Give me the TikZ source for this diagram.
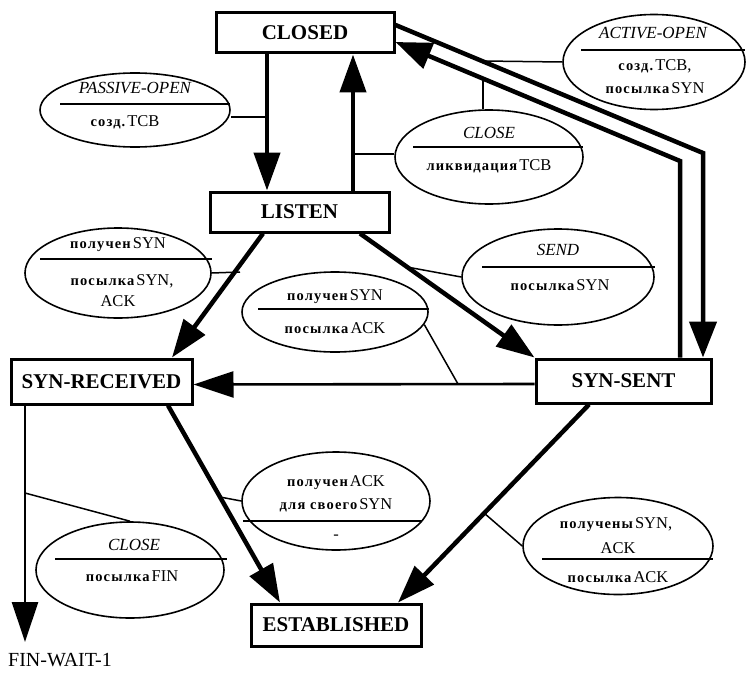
\documentclass[tikz,border=0pt]{standalone}
\usepackage{fontspec}
\setmainfont{Liberation Serif}
\newfontfamily\rufont[LetterSpace=8]{Liberation Serif}
\usetikzlibrary{shapes.geometric,arrows.meta}
\newcommand\cy[1]{{\rufont\bfseries\fontsize{14.5}{16}\selectfont #1}\hspace{2pt}}
\newcommand\lt[1]{{\fontsize{16.5}{18}\selectfont #1}}
\newcommand\tl[1]{{\itshape\fontsize{17}{19}\selectfont #1}}
\begin{document}
\begin{tikzpicture}[x=1pt,y=-1pt,
  state/.style={draw, line width=3pt, inner sep=0pt, font=\bfseries\fontsize{21}{24}\selectfont},
  oval/.style={draw, ellipse, line width=1.6pt, inner sep=0pt},
  txt/.style={inner sep=0pt},
  trans/.style={line width=4.5pt, -{Triangle[length=38pt,width=26pt]}},
  thintrans/.style={line width=2.6pt, -{Triangle[length=40pt,width=26pt]}},
  dbl/.style={line width=4.5pt, line join=miter, -{Triangle[length=36pt,width=27pt]}},
  conn/.style={line width=1.5pt},
  divider/.style={line width=2pt}
]
\useasboundingbox (0,0) rectangle (749,674);

% states
\node[state, minimum width=178pt, minimum height=40pt] (closed) at (305,33) {CLOSED};
\node[state, minimum width=179pt, minimum height=40pt] (listen) at (299.5,212) {LISTEN};
\node[state, minimum width=181pt, minimum height=45pt] (synrec) at (101.5,381.5) {SYN-RECEIVED};
\node[state, minimum width=175pt, minimum height=44pt] (synsent) at (623.5,381) {SYN-SENT};
\node[state, minimum width=170pt, minimum height=42pt] (estab) at (336,625) {ESTABLISHED};
\node[txt, anchor=west, font=\fontsize{20}{22}\selectfont] (finwait) at (8,660) {FIN-WAIT-1};

% main transitions
\draw[trans] ([xshift=-38pt]closed.south) -- ([xshift=-32.5pt]listen.north);
\draw[trans] ([xshift=53.5pt]listen.north) -- ([xshift=48pt]closed.south);
\draw[trans] ([xshift=-36.5pt]listen.south) -- ([xshift=70.5pt]synrec.north);
\draw[trans] ([xshift=60.5pt]listen.south) -- (synsent.north west);
\draw[thintrans] ([yshift=-3pt]synsent.west) -- ([yshift=-3pt]synrec.east);
\draw[trans] ([xshift=66.5pt]synrec.south) -- ([xshift=-56pt]estab.north);
\draw[trans] ([xshift=-34.5pt]synsent.south) -- ([xshift=62pt]estab.north);
\coordinate (fintip) at (25,642);
\draw[thintrans] ([xshift=-76.5pt]synrec.south) -- (fintip);

% double transitions CLOSED <-> SYN-SENT
\coordinate (b1) at (703,153);
\coordinate (b2) at (680,161);
\draw[dbl] ([yshift=8pt]closed.east) -- (b1) -- ([xshift=79.5pt]synsent.north);
\draw[dbl] ([xshift=56.5pt]synsent.north) -- (b2) -- ([yshift=-9pt]closed.east);

% junctions on transitions
\coordinate (j1) at (267,117);
\coordinate (j2) at (353,154);
\coordinate (j3) at (483,61);
\coordinate (j4) at (483,80);
\coordinate (j5) at (240,272);
\coordinate (j6) at (407,267);
\coordinate (j7) at (458,384);
\coordinate (j8) at (220,497);
\coordinate (j9) at (484,513);
\coordinate (j10) at (25,493);

% ellipses
\node[oval, minimum width=190pt, minimum height=74pt] (passive) at (135,110) {};
\node[oval, minimum width=182pt, minimum height=95pt] (active) at (654,62) {};
\node[oval, minimum width=188pt, minimum height=94pt] (closeU) at (489,157) {};
\node[oval, minimum width=192pt, minimum height=96pt] (send) at (558,277) {};
\node[oval, minimum width=186pt, minimum height=90pt] (synL) at (118,273) {};
\node[oval, minimum width=186pt, minimum height=80pt] (mid) at (335,312) {};
\node[oval, minimum width=188pt, minimum height=98pt] (ackown) at (336,501) {};
\node[oval, minimum width=190pt, minimum height=97pt] (synack) at (618,546) {};
\node[oval, minimum width=188pt, minimum height=96pt] (closeL) at (130,570) {};

% connectors
\draw[conn] (j1) -- (passive.east |- j1);
\draw[conn] (j2) -- (closeU.west |- j2);
\draw[conn] (j3) -- (active.west);
\draw[conn] (j4) -- (j4 |- closeU.north);
\draw[conn] (j5) -- (synL.east);
\draw[conn] (j6) -- (send.west);
\draw[conn] (j7) -- (mid.-8);
\draw[conn] (j8) -- (ackown.west);
\draw[conn] (j9) -- (synack.west);
\draw[conn] (j10) -- (closeL.north);

% ellipse contents
\node[txt] (t1a) at (135,88) {\tl{PASSIVE-OPEN}};
\draw[divider] (60,104) -- (230,104);
\node[txt] (t1b) at (125,122) {\cy{созд.}\lt{TCB}};

\node[txt] (t2a) at (653,33) {\tl{ACTIVE-OPEN}};
\draw[divider] (581,50) -- (745,50);
\node[txt] (t2b) at (655,66) {\cy{созд.}\lt{TCB,}};
\node[txt] (t2c) at (655,88) {\cy{посылка}\lt{SYN}};

\node[txt] (t3a) at (489,133) {\tl{CLOSE}};
\draw[divider] (413,147) -- (583,147);
\node[txt] (t3b) at (489,166) {\cy{ликвидация}\lt{TCB}};

\node[txt] (t4a) at (558,250) {\tl{SEND}};
\draw[divider] (482,267) -- (655,267);
\node[txt] (t4b) at (560,285) {\cy{посылка}\lt{SYN}};

\node[txt] (t5a) at (118,245) {\cy{получен}\lt{SYN}};
\draw[divider] (40,259) -- (212,259);
\node[txt] (t5b) at (122,281) {\cy{посылка}\lt{SYN,}};
\node[txt] (t5c) at (118,301) {\lt{ACK}};

\node[txt] (t6a) at (335,297) {\cy{получен}\lt{SYN}};
\draw[divider] (258,309) -- (429,309);
\node[txt] (t6b) at (335,328) {\cy{посылка}\lt{ACK}};

\node[txt] (t7a) at (336,483) {\cy{получен}\lt{ACK}};
\node[txt] (t7b) at (336,505) {\cy{для своего}\lt{SYN}};
\draw[divider] (243,521) -- (422,521);
\node[txt] (t7c) at (336,537) {\lt{-}};

\node[txt] (t8a) at (616,525) {\cy{получены}\lt{SYN,}};
\node[txt] (t8b) at (618,548) {\lt{ACK}};
\draw[divider] (542,559) -- (713,559);
\node[txt] (t8c) at (618,577) {\cy{посылка}\lt{ACK}};

\node[txt] (t9a) at (134,545) {\tl{CLOSE}};
\draw[divider] (55,559) -- (227,559);
\node[txt] (t9b) at (132,576) {\cy{посылка}\lt{FIN}};
\end{tikzpicture}
\end{document}
